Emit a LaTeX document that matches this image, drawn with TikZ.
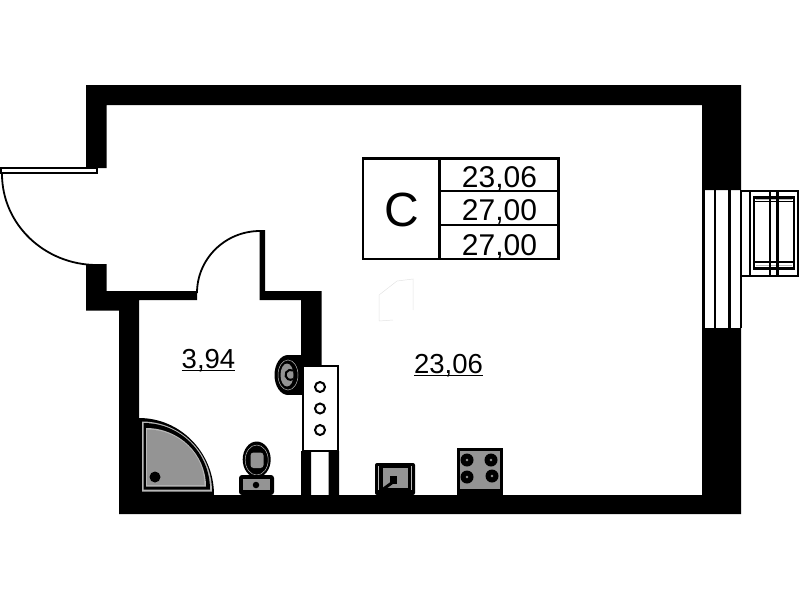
\documentclass[tikz,border=0pt]{standalone}
\usepackage{fontspec}
\setmainfont{Liberation Sans}
\usetikzlibrary{positioning}
\definecolor{fixgray}{gray}{0.58}
\definecolor{fixlight}{gray}{0.72}
\tikzset{
  wall/.style={fill=black},
  swing/.style={draw=black, line width=1.8pt},
  frameline/.style={draw=black, line width=2.5pt},
  thinline/.style={draw=black, line width=2pt},
  areatext/.style={inner sep=0pt, anchor=base, font=\fontsize{27.5}{27.5}\selectfont},
  celltext/.style={inner sep=0pt, anchor=base, font=\fontsize{30}{30}\selectfont},
  burner/.style={circle, fill=black, minimum size=13pt, inner sep=0pt},
  knob/.style={circle, draw=black, fill=white, line width=2pt, minimum size=10pt, inner sep=0pt}
}
\begin{document}
\begin{tikzpicture}[x=1pt, y=-1pt]
  \useasboundingbox (0,0) rectangle (799,600);
  % walls
  \fill[wall] (86,85) -- (741,85) -- (741,190) -- (702,190) -- (702,105) -- (106.5,105) -- (106.5,168) -- (86,168) -- cycle;
  \fill[wall] (86,264) -- (106.5,264) -- (106.5,291) -- (197,291) -- (197,300) -- (139,300) -- (139,495) -- (301,495)
    -- (301,451) -- (311,451) -- (311,495) -- (328.5,495) -- (328.5,451) -- (339,451) -- (339,495) -- (702,495)
    -- (702,328) -- (741,328) -- (741,514) -- (119,514) -- (119,310.5) -- (86,310.5) -- cycle;
  \fill[wall] (259.5,230) -- (265,230) -- (265,291) -- (321.5,291) -- (321.5,365) -- (301,365) -- (301,300) -- (259.5,300) -- cycle;
  % entrance door
  \draw[draw=black, line width=2pt, fill=white] (1,167.5) rectangle (97,173);
  \draw[swing] (2,174) arc[start angle=180, end angle=90, x radius=95, y radius=91];
  % bathroom door
  \draw[swing] (197,293) arc[start angle=180, end angle=270, x radius=63, y radius=62];
  % window
  \foreach \xline in {703.5,715,729.5,741}
    \draw[frameline] (\xline,190) -- (\xline,328);
  % balcony
  \draw[thinline] (741,190.5) -- (798,190.5) -- (798,275.5) -- (741,275.5);
  \draw[frameline] (750,190) -- (750,275);
  \draw[frameline] (754,197.5) rectangle (794,268.5);
  \draw[draw=fixlight, line width=0.8pt] (756,199.5) -- (792,199.5) (756,265.5) -- (792,265.5);
  \draw[draw=black, line width=1.2pt] (755,201.5) -- (793,201.5) (755,262) -- (793,262);
  \draw[frameline] (770,190) -- (770,275);
  \draw[frameline] (777.5,190) -- (777.5,275);
  % table
  \draw[frameline] (363,158.5) rectangle (558.5,259);
  \draw[frameline] (439.5,158.5) -- (439.5,259);
  \draw[frameline] (439.5,191) -- (558.5,191);
  \draw[frameline] (439.5,225) -- (558.5,225);
  \node[inner sep=0pt, anchor=base, font=\fontsize{48}{48}\selectfont] (typeC) at (402,226) {С};
  \node[celltext] (livingCell) at (499.5,187) {23,06};
  \node[celltext] (totalCell) at (499.5,220) {27,00};
  \node[celltext] (fullCell) at (499.5,255) {27,00};
  % areas
  \node[areatext] (bathArea) at (208.5,368) {3,94};
  \node[areatext] (roomArea) at (448.5,373) {23,06};
  \draw[line width=1.5pt] ([yshift=-2.6pt]bathArea.base west) -- ([yshift=-2.6pt]bathArea.base east);
  \draw[line width=1.5pt] ([yshift=-2.6pt]roomArea.base west) -- ([yshift=-2.6pt]roomArea.base east);
  % faint mark
  \draw[draw=gray!22, line width=0.5pt] (379,321) -- (379,295) -- (397,281) -- (413,279) -- (413,310) (379,321) -- (393,320);
  % shower
  \fill[black] (139,418) arc[start angle=-90, end angle=0, x radius=75, y radius=77] -- (139,495) -- cycle;
  \fill[fixlight] (142,421.5) arc[start angle=-90, end angle=0, x radius=70, y radius=70] -- (142,491.5) -- cycle;
  \fill[black] (143.5,423) arc[start angle=-90, end angle=0, x radius=66.5, y radius=66.5] -- (143.5,489.5) -- cycle;
  \fill[fixlight] (146,428) arc[start angle=-90, end angle=0, x radius=60, y radius=58.5] -- (146,486.5) -- cycle;
  \fill[fixgray] (147,429.5) arc[start angle=-90, end angle=0, x radius=57.5, y radius=55.5] -- (147,485) -- cycle;
  \node[circle, fill=black, minimum size=11pt, inner sep=0pt] (drain) at (155,477) {};
  % toilet
  \fill[black] (256.7,459.5) ellipse[x radius=14, y radius=18];
  \draw[draw=fixlight, line width=0.5pt] (256.7,460) ellipse[x radius=11.5, y radius=15];
  \fill[fixgray, rounded corners=3pt] (250.5,452.5) rectangle (263.5,468);
  \fill[black, rounded corners=3pt] (239,475) rectangle (274,495);
  \fill[fixgray] (243,479) rectangle (270,490);
  \node[circle, fill=black, minimum size=6.5pt, inner sep=0pt] (flush) at (256,485) {};
  % basin
  \fill[black] (288,375) ellipse[x radius=13.5, y radius=20];
  \fill[black] (288,355) rectangle (302,395);
  \draw[draw=fixlight, line width=0.5pt] (288,375) ellipse[x radius=10, y radius=15];
  \fill[fixgray] (287,375) ellipse[x radius=6.5, y radius=11.5];
  \draw[draw=black, line width=2pt] (293,370.5) arc[start angle=-60, end angle=-300, radius=5];
  % cabinet
  \draw[draw=black, fill=white, line width=2pt] (303,365.5) rectangle (338,450.5);
  \node[knob] (knobA) at (320,387) {};
  \node[knob] (knobB) at (320,408.5) {};
  \node[knob] (knobC) at (320,430) {};
  % kitchen sink
  \fill[black, rounded corners=2pt] (375,463) rectangle (415,495);
  \draw[draw=fixlight, line width=0.8pt] (378.5,466) -- (378.5,490) (411.5,466) -- (411.5,490);
  \fill[fixgray] (383,468) rectangle (408,488);
  \fill[black] (390,476) rectangle (397,484);
  \draw[draw=black, line width=3pt] (393,482) -- (382,490);
  % stove
  \fill[black] (457,448) rectangle (503,495);
  \fill[fixgray] (460,451) rectangle (500,489);
  \foreach \bx/\by/\bname in {467/460/burnerA, 491/460/burnerB, 467/477/burnerC, 492/476/burnerD}
    \node[burner] (\bname) at (\bx,\by) {};
  \foreach \bname in {burnerA,burnerB,burnerC,burnerD}
    \fill[fixgray] (\bname) circle[radius=1.3pt];
\end{tikzpicture}
\end{document}
